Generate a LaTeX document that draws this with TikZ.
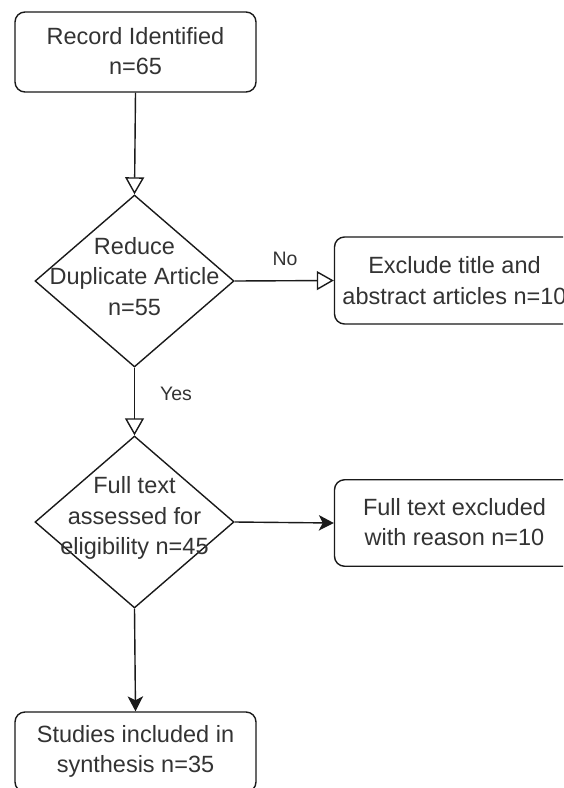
\documentclass[tikz,border=0pt]{standalone}
\usepackage{fontspec}
\setmainfont{Liberation Sans}
\usetikzlibrary{shapes.geometric,arrows.meta}
\definecolor{txt}{HTML}{333333}
\definecolor{ln}{HTML}{1A1A1A}
\tikzset{
  box/.style={draw=ln, line width=1.4pt, rounded corners=10pt, rectangle, inner sep=0pt, align=center},
  dia/.style={draw=ln, line width=1.4pt, diamond, inner sep=0pt, minimum width=199pt, minimum height=172pt},
  txtnode/.style={inner sep=0pt, align=center, text=txt, font=\fontsize{23.5}{30.5}\selectfont},
  lbl/.style={inner sep=0pt, text=txt, font=\fontsize{19.5}{22}\selectfont},
  conn/.style={draw=ln, line width=1.4pt},
  openarr/.style={-{Triangle[open,length=17pt,width=19pt]}},
  fullarr/.style={-{Stealth[length=15pt,width=15.5pt,inset=4pt]}}
}
\begin{document}
\begin{tikzpicture}[x=1pt,y=-1pt]
\useasboundingbox (0,0) rectangle (563,788);
\fill[white] (0,0) rectangle (563,788);
\clip (0,0) rectangle (563,788);

% nodes
\node[box, minimum width=241pt, minimum height=80pt] (rec) at (135.5,52) {};
\node[txtnode] (rect) at (135.5,51) {Record Identified\\n=65};

\node[dia] (d1) at (134.5,281) {};
\node[txtnode] (d1t) at (134.5,276.5) {Reduce\\Duplicate Article\\n=55};

\node[box, minimum width=240pt, minimum height=87pt] (ex1) at (454.5,280.5) {};
\node[txtnode] (ex1t) at (454.5,280.5) {Exclude title and\\abstract articles n=10};

\node[dia] (d2) at (134.5,522) {};
\node[txtnode] (d2t) at (134.5,518) {Full text\\assessed for\\eligibility n=45};

\node[box, minimum width=240pt, minimum height=86.5pt] (ex2) at (454.5,523) {};
\node[txtnode] (ex2t) at (454.5,522) {Full text excluded\\with reason n=10};

\node[box, minimum width=241pt, minimum height=80pt] (st) at (135.5,752) {};
\node[txtnode] (stt) at (135.5,751.5) {Studies included in\\synthesis n=35};

% connectors
\draw[conn, openarr] (rec.south) -- (d1.north);
\draw[conn, openarr] (d1.east) -- (ex1.west);
\draw[conn, openarr] (d1.south) -- (d2.north);
\draw[conn, fullarr] (d2.east) -- (ex2.west);
\draw[conn, fullarr] (d2.south) -- (st.north);

% labels
\node[lbl] (no) at (285,259) {No};
\node[lbl] (yes) at (176,393.5) {Yes};
\end{tikzpicture}
\end{document}
